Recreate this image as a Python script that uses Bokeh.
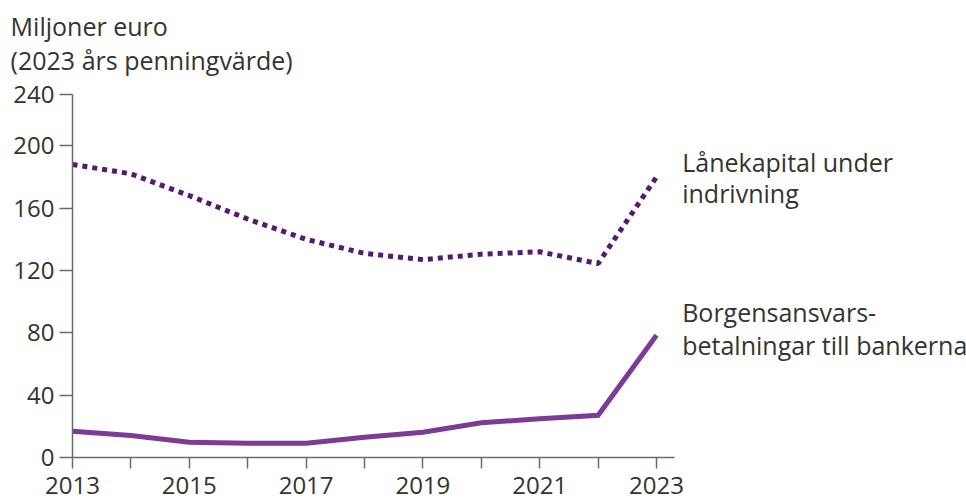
from bokeh.plotting import figure
from bokeh.models import Range1d, FixedTicker, Label
from bokeh.embed import file_html
from bokeh.resources import INLINE

years = [2013, 2014, 2015, 2016, 2017, 2018, 2019, 2020, 2021, 2022, 2023]
lanekapital = [188, 182, 168, 153, 140, 131, 127, 130.5, 132, 124.5, 180]
borgen = [17, 14.3, 10, 9.4, 9.4, 13.2, 16.4, 22.4, 25, 27.3, 78.5]
x_ticks = [2013, 2015, 2017, 2019, 2021, 2023]
x_minor = [2014, 2016, 2018, 2020, 2022]
y_ticks = [0, 40, 80, 120, 160, 200]
y_top = 232.8
y_top_label = "240"
unit_lines = ["Miljoner euro", "(2023 års penningvärde)"]
series_labels_a = ["Lånekapital under", "indrivning"]
series_labels_b = ["Borgensansvars-", "betalningar till bankerna"]

FONT = "Open Sans"
AXIS = "#6b6b6b"
TXT = "#333333"
FS = "24px"
FS_LABEL = "25px"

p = figure(width=966, height=502, output_backend="svg", toolbar_location=None,
           x_range=Range1d(2011.767, 2028.308), y_range=Range1d(-28.64, 293.05),
           min_border=0)
p.outline_line_color = None
p.grid.grid_line_color = None
p.background_fill_color = "white"
p.border_fill_color = "white"

p.line(years, lanekapital, line_color="#55196e", line_width=5, line_dash="5 5", line_cap="butt")
p.line(years, borgen, line_color="#7d3a96", line_width=5, line_join="miter")

xa = p.xaxis[0]
xa.fixed_location = 0
xa.bounds = (2013, 2023.31)
xa.ticker = FixedTicker(ticks=x_ticks, minor_ticks=x_minor)
xa.axis_line_color = AXIS
xa.axis_line_width = 1.5
xa.major_tick_line_color = AXIS
xa.minor_tick_line_color = AXIS
xa.major_tick_line_width = 1.5
xa.minor_tick_line_width = 1.5
xa.major_tick_out = 11
xa.major_tick_in = 0
xa.minor_tick_out = 11
xa.minor_tick_in = 0
xa.major_label_text_font = FONT
xa.major_label_text_font_size = FS
xa.major_label_text_color = TXT
xa.major_label_standoff = 8

ya = p.yaxis[0]
ya.fixed_location = 2013
ya.bounds = (0, y_top)
ya.ticker = FixedTicker(ticks=y_ticks + [y_top], minor_ticks=[])
ya.major_label_overrides = {y_top: y_top_label}
ya.axis_line_color = AXIS
ya.axis_line_width = 1.5
ya.major_tick_line_color = AXIS
ya.major_tick_line_width = 1.5
ya.major_tick_out = 13
ya.major_tick_in = 0
ya.major_label_text_font = FONT
ya.major_label_text_font_size = FS
ya.major_label_text_color = TXT
ya.major_label_standoff = 5

def add_label(txt, x, y):
    p.add_layout(Label(x=x, y=y, text=txt, text_font=FONT, text_font_size=FS_LABEL,
                       text_color=TXT, text_baseline="middle", text_align="left"))

add_label(unit_lines[0], 2011.94, 277.0)
add_label(unit_lines[1], 2011.94, 255.2)
add_label(series_labels_a[0], 2023.44, 189.8)
add_label(series_labels_a[1], 2023.44, 169.5)
add_label(series_labels_b[0], 2023.44, 93.2)
add_label(series_labels_b[1], 2023.44, 72.4)

open("out.html", "w").write(file_html(p, INLINE))
